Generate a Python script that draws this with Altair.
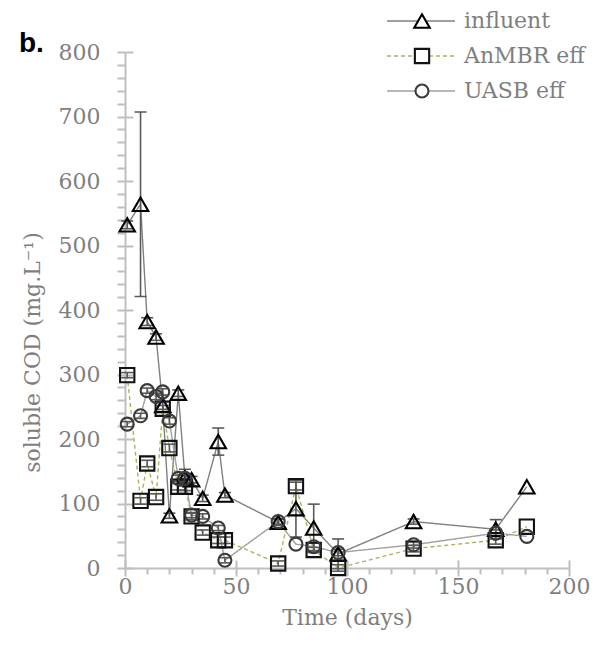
import altair as alt
import pandas as pd

# ---- data ----
days = [1, 7, 10, 14, 17, 20, 24, 27, 30, 35, 42, 45, 69, 77, 85, 96, 130, 167, 181]

influent = [532, 564, 382, 358, 252, 81, 271, 140, 137, 108, 196, 113, 71, 92, 62, 22, 72, 60, 126]
influent_err = [6, 143, 6, 5, 6, 4, 5, 13, 5, 5, 21, 4, 5, 44, 37, 23, 4, 15, 0]

anmbr = [299, 104, 162, 110, 247, 186, 126, 126, 80, 55, 43, 43, 7, 127, 28, 0, 30, 43, 64]
anmbr_err = [4, 5, 5, 5, 5, 6, 5, 6, 5, 4, 5, 5, 4, 6, 4, 5, 5, 6, 0]

uasb = [223, 236, 275, 266, 273, 228, 139, 139, 82, 80, 62, 12, 72, 37, 33, 24, 36, 54, 49]
uasb_err = [4, 4, 4, 5, 5, 5, 5, 6, 4, 4, 4, 4, 4, 0, 6, 5, 5, 5, 0]

names = ["influent", "AnMBR eff", "UASB eff"]
line_colors = ["#808080", "#9bbb59", "#a0a0a0"]
line_dashes = [[1, 0], [4, 3], [1, 0]]
marker_shapes = ["triangle-up", "square", "circle"]
marker_colors = ["#000000", "#111111", "#3a3a3a"]
marker_sizes = [240, 169, 169]

rows = []
for name, vals, errs in [(names[0], influent, influent_err),
                         (names[1], anmbr, anmbr_err),
                         (names[2], uasb, uasb_err)]:
    for d, v, e in zip(days, vals, errs):
        rows.append({"day": d, "value": v, "err": e, "series": name,
                     "lo": v - e, "hi": v + e})
df = pd.DataFrame(rows)
err_df = df[df["err"] > 0]

SERIF = "DejaVu Serif"
AXC = "#bfbfbf"
TXC = "#7f7f7f"
FS = 22

color_sc = alt.Scale(domain=names, range=line_colors)
dash_sc = alt.Scale(domain=names, range=line_dashes)
shape_sc = alt.Scale(domain=names, range=marker_shapes)
stroke_sc = alt.Scale(domain=names, range=marker_colors)
size_sc = alt.Scale(domain=names, range=marker_sizes)

x_axis = alt.Axis(
    values=list(range(0, 201, 10)), tickCount=200,
    labelExpr="datum.value % 50 === 0 ? datum.label : ''",
    tickSize={"condition": {"test": "datum.value % 50 === 0", "value": 8}, "value": 6},
    grid=True, gridDash=[0, 508, 8, 3000], gridColor=AXC, gridWidth=2,
    gridOpacity={"condition": {"test": "datum.value % 50 === 0", "value": 1}, "value": 0},
    domainColor=AXC, domainWidth=2, tickColor=AXC, tickWidth=2,
    labelColor=TXC, labelFont=SERIF, labelFontSize=FS, labelPadding=0,
    title="Time (days)", titleFont=SERIF, titleFontSize=FS, titleColor=TXC,
    titleFontWeight="normal", titlePadding=10, labelFlush=False, labelOverlap=False,
)
y_axis = alt.Axis(
    values=list(range(0, 801, 20)), tickCount=200,
    labelExpr="datum.value % 100 === 0 ? datum.label : ''",
    tickSize=8,
    grid=True, gridDash=[8, 3000], gridColor=AXC, gridWidth=2,
    gridOpacity={"condition": {"test": "datum.value % 100 === 0", "value": 1}, "value": 0},
    domainColor=AXC, domainWidth=2, tickColor=AXC, tickWidth=2,
    labelColor=TXC, labelFont=SERIF, labelFontSize=FS, labelPadding=17,
    title="soluble COD (mg.L⁻¹)", titleFont=SERIF, titleFontSize=FS, titleColor=TXC,
    titleFontWeight="normal", titlePadding=14, titleY=300,
    labelFlush=False, labelOverlap=False,
)

X = alt.X("day:Q", scale=alt.Scale(domain=[0, 200], nice=False), axis=x_axis)
Y = alt.Y("value:Q", scale=alt.Scale(domain=[0, 800], nice=False), axis=y_axis)
Xn = alt.X("day:Q")

base = alt.Chart(df)

lines = base.mark_line(strokeWidth=1.4).encode(
    x=X, y=Y,
    color=alt.Color("series:N", scale=color_sc, legend=None),
    strokeDash=alt.StrokeDash("series:N", scale=dash_sc, legend=None),
    order="day:Q",
)

err_base = alt.Chart(err_df)
err_rule = err_base.mark_rule(color="#595959", strokeWidth=1.6).encode(
    x=Xn, y=alt.Y("lo:Q"), y2="hi:Q")
cap_lo = err_base.mark_tick(orient="horizontal", size=12, thickness=1.6,
                            color="#595959", opacity=1).encode(x=Xn, y=alt.Y("lo:Q"))
cap_hi = err_base.mark_tick(orient="horizontal", size=12, thickness=1.6,
                            color="#595959", opacity=1).encode(x=Xn, y=alt.Y("hi:Q"))

points = base.mark_point(filled=False, strokeWidth=2.1, opacity=1).encode(
    x=Xn, y=alt.Y("value:Q"),
    shape=alt.Shape("series:N", scale=shape_sc, legend=None),
    stroke=alt.Stroke("series:N", scale=stroke_sc, legend=None),
    size=alt.Size("series:N", scale=size_sc, legend=None),
)

main = alt.layer(lines, err_rule, cap_lo, cap_hi, points)

# ---- legend drawn as its own layer ----
leg_df = pd.DataFrame({"series": names, "label": names, "row": [0, 1, 2]})
leg_y = alt.Y("row:Q", scale=alt.Scale(domain=[0, 2], range=[-31, 39]), axis=None)
leg_base = alt.Chart(leg_df)
leg_line = leg_base.mark_rule(strokeWidth=1.4).encode(
    y=leg_y, x=alt.value(262), x2=alt.value(330),
    color=alt.Color("series:N", scale=color_sc, legend=None),
    strokeDash=alt.StrokeDash("series:N", scale=dash_sc, legend=None),
)
leg_pt = leg_base.mark_point(filled=False, strokeWidth=2.1, opacity=1, fill="white").encode(
    y=leg_y, x=alt.value(297),
    shape=alt.Shape("series:N", scale=shape_sc, legend=None),
    stroke=alt.Stroke("series:N", scale=stroke_sc, legend=None),
    size=alt.Size("series:N", scale=size_sc, legend=None),
)
leg_txt = leg_base.mark_text(align="left", baseline="middle", font=SERIF,
                             fontSize=FS, color=TXC).encode(
    y=leg_y, x=alt.value(339), text="label:N")
legend = alt.layer(leg_line, leg_pt, leg_txt)

panel = alt.Chart(pd.DataFrame({"t": ["b."]})).mark_text(
    align="left", baseline="middle", font="Liberation Sans", fontWeight="bold",
    fontSize=28, color="#000000").encode(x=alt.value(-106), y=alt.value(-8), text="t:N")

chart = alt.layer(main, legend, panel).resolve_scale(y="independent").properties(
    width=444, height=516,
    padding={"left": 117, "top": 44, "right": 21, "bottom": 81},
    autosize=alt.AutoSizeParams(type="none"),
    background="white",
).configure_view(stroke=None)

chart.save("out.html", embed_options={"renderer": "svg", "actions": False})
